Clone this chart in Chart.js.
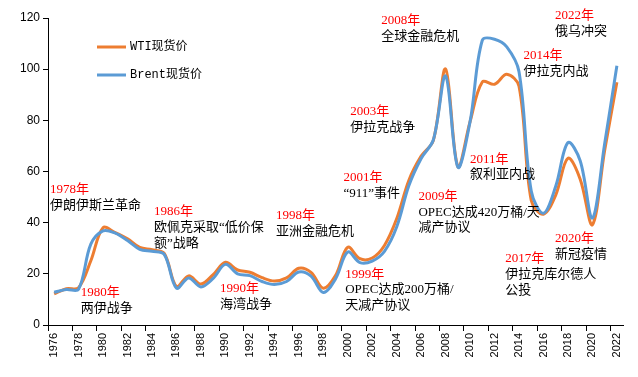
<!DOCTYPE html>
<html>
<head>
<meta charset="utf-8">
<script src="https://cdn.jsdelivr.net/npm/chart.js@4/dist/chart.umd.min.js"></script>
<style>
  html, body { margin: 0; padding: 0; background: #fff; }
  canvas { display: block; }
</style>
</head>
<body>
<canvas id="oilChart" width="638" height="377"></canvas>
<script>
// --- Data: annual average spot prices (USD/bbl) ---
const YEARS = [];
for (let y = 1976; y <= 2022; y++) YEARS.push(String(y));

const WTI = [
  12.2, 14.2, 14.6, 25.1, 38.0, 36.1, 33.7, 30.3, 29.4, 28.0,
  15.1, 19.2, 16.0, 19.7, 24.5, 21.5, 20.6, 18.5, 17.2, 18.4,
  22.2, 20.6, 14.4, 19.3, 30.4, 25.9, 26.2, 31.1, 41.5, 56.6,
  66.0, 72.2, 100.1, 61.9, 79.5, 95.0, 94.1, 98.0, 93.3, 48.7,
  43.3, 50.8, 65.2, 57.0, 39.2, 68.2, 94.9
];

const BRENT = [
  12.8, 13.9, 14.0, 31.6, 36.8, 35.9, 33.0, 29.6, 28.8, 27.6,
  14.4, 18.4, 14.9, 18.2, 23.7, 20.0, 19.3, 17.0, 15.8, 17.0,
  20.7, 19.1, 12.7, 18.0, 28.5, 24.4, 25.0, 28.8, 38.3, 54.5,
  65.1, 72.4, 97.3, 61.7, 79.5, 111.3, 111.7, 108.7, 99.0, 52.4,
  43.7, 54.2, 71.3, 64.2, 41.8, 70.9, 101.3
];

// --- Event notes: anchor = (year, price) of the red year line ---
const EVENTS = [
  { year: 1975.66, price: 52.8, title: '1978年', lines: ['伊朗伊斯兰革命'] },
  { year: 1978.17, price: 12.6, title: '1980年', lines: ['两伊战争'] },
  { year: 1984.17, price: 44.2, title: '1986年', lines: ['欧佩克采取“低价保', '额”战略'] },
  { year: 1989.56, price: 14.1, title: '1990年', lines: ['海湾战争'] },
  { year: 1994.14, price: 42.7, title: '1998年', lines: ['亚洲金融危机'] },
  { year: 1999.65, price: 57.5, title: '2001年', lines: ['“911”事件'] },
  { year: 1999.79, price: 19.9, title: '1999年', lines: ['OPEC达成200万桶/', '天减产协议'] },
  { year: 2000.2, price: 83.3, title: '2003年', lines: ['伊拉克战争'] },
  { year: 2002.73, price: 119.0, title: '2008年', lines: ['全球金融危机'] },
  { year: 2005.78, price: 50.2, title: '2009年', lines: ['OPEC达成420万桶/天', '减产协议'] },
  { year: 2010.0, price: 64.8, title: '2011年', lines: ['叙利亚内战'] },
  { year: 2014.36, price: 105.2, title: '2014年', lines: ['伊拉克内战'] },
  { year: 2012.87, price: 25.8, title: '2017年', lines: ['伊拉克库尔德人', '公投'] },
  { year: 2016.95, price: 33.6, title: '2020年', lines: ['新冠疫情'] },
  { year: 2016.95, price: 120.8, title: '2022年', lines: ['俄乌冲突'] }
];

const NOTE_FONT = '13px "Liberation Serif", "Noto Sans CJK SC", sans-serif';
const LEGEND_FONT = '12px "Liberation Mono", "Noto Sans CJK SC", monospace';

// --- Plugin: event notes + legend inside the plot ---
const notesPlugin = {
  id: 'notes',
  afterDraw(chart) {
    const ctx = chart.ctx;
    const xs = chart.scales.x;
    const ys = chart.scales.y;
    ctx.save();
    ctx.font = NOTE_FONT;
    ctx.textAlign = 'left';
    ctx.textBaseline = 'middle';
    EVENTS.forEach(ev => {
      const px = xs.getPixelForValue(ev.year - 1976);
      const py = ys.getPixelForValue(ev.price);
      ctx.fillStyle = '#ff0000';
      ctx.fillText(ev.title, px, py);
      ctx.fillStyle = '#000';
      ev.lines.forEach((t, i) => ctx.fillText(t, px, py + 15.7 * (i + 1)));
    });

    // legend (WTI first, then Brent)
    const area = chart.chartArea;
    ctx.font = LEGEND_FONT;
    chart.data.datasets.forEach((ds, i) => {
      const y = area.top + 29 + i * 28;
      const x0 = area.left + 49;
      ctx.strokeStyle = ds.borderColor;
      ctx.lineWidth = 3;
      ctx.beginPath();
      ctx.moveTo(x0, y);
      ctx.lineTo(x0 + 29, y);
      ctx.stroke();
      ctx.fillStyle = '#000';
      ctx.fillText(ds.label, x0 + 33, y);
    });
    ctx.restore();
  }
};

new Chart(document.getElementById('oilChart'), {
  type: 'line',
  data: {
    labels: YEARS,
    datasets: [
      {
        label: 'WTI现货价',
        data: WTI,
        borderColor: '#ed7d31',
        borderWidth: 3,
        pointRadius: 0,
        tension: 0.35,
        order: 1
      },
      {
        label: 'Brent现货价',
        data: BRENT,
        borderColor: '#5b9bd5',
        borderWidth: 3,
        pointRadius: 0,
        tension: 0.35,
        order: 0
      }
    ]
  },
  options: {
    responsive: false,
    animation: false,
    layout: { padding: { left: 0, right: 15, top: 18, bottom: 0 } },
    plugins: {
      legend: { display: false },
      tooltip: { enabled: false }
    },
    scales: {
      x: {
        type: 'category',
        offset: true,
        afterFit(scale) { scale.height = 52; },
        border: { color: '#000', width: 1 },
        grid: {
          offset: true,
          drawOnChartArea: false,
          tickLength: 6,
          color: c => (c.index % 2 === 0 ? '#000' : 'rgba(0,0,0,0)')
        },
        ticks: {
          autoSkip: false,
          maxRotation: 90,
          minRotation: 90,
          padding: 2,
          color: '#000',
          font: { family: '"Liberation Sans", sans-serif', size: 11 },
          callback(value, index) { return index % 2 === 0 ? this.getLabelForValue(value) : ''; }
        }
      },
      y: {
        min: 0,
        max: 120,
        afterFit(scale) { scale.width = 48; },
        border: { color: '#000', width: 1 },
        grid: { drawOnChartArea: false, tickLength: 5, color: '#000' },
        ticks: {
          stepSize: 20,
          padding: 3,
          color: '#000',
          font: { family: '"Liberation Sans", sans-serif', size: 12 }
        }
      }
    }
  },
  plugins: [notesPlugin]
});
</script>
</body>
</html>
